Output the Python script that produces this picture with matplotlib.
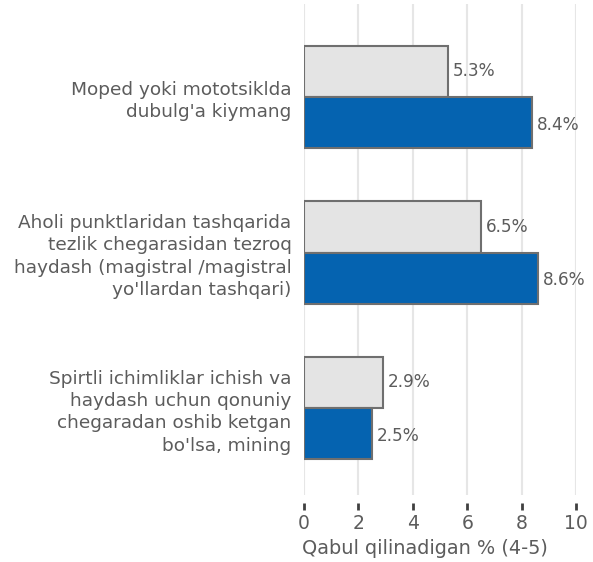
import matplotlib
matplotlib.use("Agg")
import matplotlib.pyplot as plt
import numpy as np

categories = [
    "Moped yoki mototsiklda\ndubulg'a kiymang",
    "Aholi punktlaridan tashqarida\ntezlik chegarasidan tezroq\nhaydash (magistral /magistral\nyo'llardan tashqari)",
    "Spirtli ichimliklar ichish va\nhaydash uchun qonuniy\nchegaradan oshib ketgan\nbo'lsa, mining",
]
series_gray = [5.3, 6.5, 2.9]
series_blue = [8.4, 8.6, 2.5]
xticks = [0, 2, 4, 6, 8, 10]
xlabel = "Qabul qilinadigan % (4-5)"

plt.rcParams['font.family'] = ['DejaVu Sans']
txt = '#5c5c5c'

fig = plt.figure(figsize=(5.93, 5.62), dpi=100)
ax = fig.add_axes([304/593, 1-495/562, (576-304)/593, (495-4)/562])
for s in ax.spines.values():
    s.set_visible(False)
ax.spines['bottom'].set_position(('outward', 6))

y = np.arange(len(categories))
h = 0.328
ax.barh(y - h/2, series_gray, height=h, color='#e4e4e4', edgecolor='#6f6f6f', linewidth=1.5, zorder=3)
ax.barh(y + h/2, series_blue, height=h, color='#0563b0', edgecolor='#6f6f6f', linewidth=1.5, zorder=3)

for yi, v in zip(y - h/2, series_gray):
    ax.annotate(f"{v:.1f}%", (v, yi), xytext=(3.5, 0), textcoords='offset points',
                va='center', ha='left', fontsize=12.2, color=txt)
for yi, v in zip(y + h/2, series_blue):
    ax.annotate(f"{v:.1f}%", (v, yi), xytext=(3.5, -1.5), textcoords='offset points',
                va='center', ha='left', fontsize=12.2, color=txt)

ax.set_xlim(0, 10)
ax.set_ylim(2 + (495-408)/155.5, -(97-4)/155.5)
ax.set_xticks(xticks)
ax.set_xticklabels([str(t) for t in xticks], fontsize=13.5, color=txt)
ax.set_yticks(y)
ax.set_yticklabels(categories, fontsize=13.3, color=txt, linespacing=1.32)
ax.tick_params(axis='y', length=0, pad=9)
ax.tick_params(axis='x', length=5, width=2, color='#404040', pad=3)
ax.set_xlabel(xlabel, fontsize=13.9, color=txt, labelpad=4)
ax.xaxis.label.set_x((425-304)/272)
ax.grid(axis='x', color='#e6e6e6', linewidth=1.5, zorder=0)

fig.savefig("out.png", dpi=100)
